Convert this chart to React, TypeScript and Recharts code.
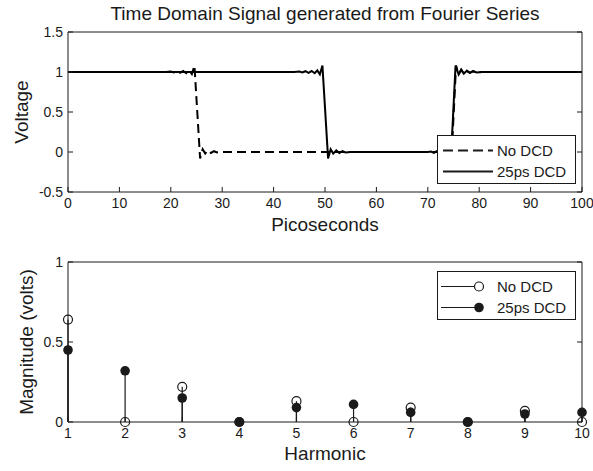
import {
  LineChart,
  Line,
  ScatterChart,
  Scatter,
  ErrorBar,
  XAxis,
  YAxis,
  Legend,
} from "recharts";

const INK = "#1a1a1a";
const FONT = '"Liberation Sans", Arial, Helvetica, sans-serif';

const TITLE = "Time Domain Signal generated from Fourier Series";
const SERIES = ["No DCD", "25ps DCD"];

// time domain, picoseconds vs volts (ripple hand-traced)
const NO_DCD_T = [
  0, 19, 20, 20.6, 21.2, 21.8, 22.4, 23, 23.6, 24.1, 24.6, 25.7, 26.2, 26.7, 27.2,
  27.8, 28.4, 29, 30, 72, 72.6, 73.2, 73.7, 74.2, 74.6, 75.5, 76, 76.5, 77, 77.6,
  78.2, 78.8, 79.5, 80.5, 100,
];
const NO_DCD_V = [
  1, 1, 1.005, 0.995, 1.01, 0.99, 1.012, 0.985, 1.02, 0.975, 1.08, -0.08, 0.035,
  -0.02, 0.02, -0.012, 0.01, -0.005, 0, 0, 0.005, -0.01, 0.015, -0.025, -0.08,
  1.08, 0.97, 1.03, 0.98, 1.015, 0.99, 1.01, 0.995, 1, 1,
];
const DCD_T = [
  0, 44, 45, 45.6, 46.2, 46.8, 47.4, 48, 48.5, 49, 49.5, 50.6, 51.1, 51.6, 52.2,
  52.8, 53.4, 54, 55, 70, 70.6, 71.2, 71.8, 72.4, 73, 73.6, 74.1, 74.5, 75.4, 76,
  76.5, 77, 77.6, 78.2, 78.8, 79.5, 80.5, 100,
];
const DCD_V = [
  1, 1, 1.005, 0.995, 1.01, 0.99, 1.012, 0.985, 1.02, 0.97, 1.08, -0.08, 0.035,
  -0.02, 0.02, -0.012, 0.01, -0.005, 0, 0, 0.005, -0.01, 0.012, -0.015, 0.02,
  -0.025, 0.03, -0.08, 1.08, 0.97, 1.03, 0.98, 1.015, 0.99, 1.01, 0.995, 1, 1,
];
const TIME_TICKS = [0, 10, 20, 30, 40, 50, 60, 70, 80, 90, 100];
const VOLT_TICKS = [-0.5, 0, 0.5, 1, 1.5];

// harmonic magnitudes
const HARMONICS = [1, 2, 3, 4, 5, 6, 7, 8, 9, 10];
const NO_DCD_MAG = [0.64, 0, 0.22, 0, 0.13, 0, 0.09, 0, 0.07, 0];
const DCD_MAG = [0.45, 0.32, 0.15, 0, 0.09, 0.11, 0.06, 0, 0.05, 0.06];
const MAG_TICKS = [0, 0.5, 1];

const noDcdLine = NO_DCD_T.map((t, i) => ({ t, v: NO_DCD_V[i] }));
const dcdLine = DCD_T.map((t, i) => ({ t, v: DCD_V[i] }));
const noDcdStems = HARMONICS.map((x, i) => ({ x, y: NO_DCD_MAG[i], stem: [NO_DCD_MAG[i], 0] }));
const dcdStems = HARMONICS.map((x, i) => ({ x, y: DCD_MAG[i], stem: [DCD_MAG[i], 0] }));

// ticks point inward, matlab style; labels drawn by hand
function BottomTick({ x, y, payload }: any) {
  return (
    <g>
      <line x1={x} x2={x} y1={y} y2={y - 5} stroke={INK} />
      <text x={x} y={y + 16} textAnchor="middle" fontSize={14} fill={INK} fontFamily={FONT}>
        {payload.value}
      </text>
    </g>
  );
}
function TopTick({ x, y }: any) {
  return <line x1={x} x2={x} y1={y} y2={y + 5} stroke={INK} />;
}
function LeftTick({ x, y, payload }: any) {
  return (
    <g>
      <line x1={x} x2={x + 5} y1={y} y2={y} stroke={INK} />
      <text x={x - 5} y={y + 5} textAnchor="end" fontSize={14} fill={INK} fontFamily={FONT}>
        {payload.value}
      </text>
    </g>
  );
}
function RightTick({ x, y }: any) {
  return <line x1={x} x2={x - 5} y1={y} y2={y} stroke={INK} />;
}

const OpenDot = (p: any) => (
  <circle cx={p.cx} cy={p.cy} r={4.5} fill="none" stroke={INK} strokeWidth={1.2} />
);
const FilledDot = (p: any) => <circle cx={p.cx} cy={p.cy} r={4.8} fill={INK} />;

function LegendBox({ kind }: { kind: "line" | "stem" }) {
  return (
    <div
      style={{
        boxSizing: "border-box",
        width: 139,
        height: 49,
        border: `1px solid ${INK}`,
        background: "#fff",
        paddingTop: 4,
        fontFamily: FONT,
        fontSize: 15,
        color: INK,
      }}
    >
      {SERIES.map((name, i) => (
        <div key={name} style={{ display: "flex", alignItems: "center", height: 21 }}>
          <svg width={58} height={21}>
            {kind === "line" ? (
              <line
                x1={5}
                x2={55}
                y1={10.5}
                y2={10.5}
                stroke={INK}
                strokeWidth={2}
                strokeDasharray={i === 0 ? "10 5" : undefined}
              />
            ) : (
              <>
                <line x1={3} x2={41} y1={10.5} y2={10.5} stroke={INK} />
                {i === 0 ? (
                  <circle cx={41} cy={10.5} r={4.5} fill="#fff" stroke={INK} strokeWidth={1.2} />
                ) : (
                  <circle cx={41} cy={10.5} r={4.8} fill={INK} />
                )}
              </>
            )}
          </svg>
          <span style={{ marginLeft: 1 }}>{name}</span>
        </div>
      ))}
    </div>
  );
}

const labelStyle = { fontSize: 19, fill: INK, fontFamily: FONT };

export default function App() {
  return (
    <div style={{ position: "absolute", left: 0, top: 0, width: 593, height: 471, background: "#fff" }}>
      <div style={{ position: "absolute", left: 0, top: 0 }}>
        <LineChart width={593} height={240} margin={{ top: 27, right: 6, bottom: 43, left: 63 }}>
          <XAxis
            dataKey="t"
            type="number"
            domain={[0, 100]}
            ticks={TIME_TICKS}
            interval={0}
            height={5}
            tickSize={0}
            tickMargin={0}
            tickLine={false}
            tick={<BottomTick />}
            axisLine={{ stroke: INK }}
            label={{ value: "Picoseconds", position: "bottom", offset: 21, ...labelStyle }}
          />
          <XAxis
            xAxisId="top"
            orientation="top"
            type="number"
            domain={[0, 100]}
            allowDataOverflow
            ticks={TIME_TICKS}
            interval={0}
            height={5}
            tickSize={0}
            tickMargin={0}
            tickLine={false}
            tick={<TopTick />}
            axisLine={{ stroke: INK }}
            label={{ value: TITLE, position: "top", offset: 7, ...labelStyle }}
          />
          <YAxis
            type="number"
            domain={[-0.5, 1.5]}
            ticks={VOLT_TICKS}
            interval={0}
            width={5}
            tickSize={0}
            tickMargin={0}
            tickLine={false}
            tick={<LeftTick />}
            axisLine={{ stroke: INK }}
            label={{
              value: "Voltage",
              angle: -90,
              position: "left",
              offset: 42,
              ...labelStyle,
              style: { textAnchor: "middle" },
            }}
          />
          <YAxis
            yAxisId="right"
            orientation="right"
            type="number"
            domain={[-0.5, 1.5]}
            allowDataOverflow
            ticks={VOLT_TICKS}
            interval={0}
            width={5}
            tickSize={0}
            tickMargin={0}
            tickLine={false}
            tick={<RightTick />}
            axisLine={{ stroke: INK }}
          />
          <Line
            data={noDcdLine}
            dataKey="v"
            name={SERIES[0]}
            type="linear"
            stroke="#000"
            strokeWidth={2}
            strokeDasharray="9 5"
            dot={false}
            isAnimationActive={false}
          />
          <Line
            data={dcdLine}
            dataKey="v"
            name={SERIES[1]}
            type="linear"
            stroke="#000"
            strokeWidth={2}
            dot={false}
            isAnimationActive={false}
          />
          <Legend
            layout="vertical"
            align="center"
            verticalAlign="middle"
            wrapperStyle={{ left: 437, top: 135, width: 139 }}
            content={() => <LegendBox kind="line" />}
          />
        </LineChart>
      </div>

      <div style={{ position: "absolute", left: 0, top: 240 }}>
        <ScatterChart width={593} height={231} margin={{ top: 17, right: 6, bottom: 44, left: 63 }}>
          <XAxis
            dataKey="x"
            type="number"
            domain={[1, 10]}
            ticks={HARMONICS}
            interval={0}
            height={5}
            tickSize={0}
            tickMargin={0}
            tickLine={false}
            tick={<BottomTick />}
            axisLine={{ stroke: INK }}
            label={{ value: "Harmonic", position: "bottom", offset: 20, ...labelStyle }}
          />
          <XAxis
            xAxisId="top"
            orientation="top"
            type="number"
            domain={[1, 10]}
            allowDataOverflow
            ticks={HARMONICS}
            interval={0}
            height={5}
            tickSize={0}
            tickMargin={0}
            tickLine={false}
            tick={<TopTick />}
            axisLine={{ stroke: INK }}
          />
          <YAxis
            dataKey="y"
            type="number"
            domain={[0, 1]}
            ticks={MAG_TICKS}
            interval={0}
            width={5}
            tickSize={0}
            tickMargin={0}
            tickLine={false}
            tick={<LeftTick />}
            axisLine={{ stroke: INK }}
            label={{
              value: "Magnitude (volts)",
              angle: -90,
              position: "left",
              offset: 37,
              ...labelStyle,
              style: { textAnchor: "middle" },
            }}
          />
          <YAxis
            yAxisId="right"
            orientation="right"
            type="number"
            domain={[0, 1]}
            allowDataOverflow
            ticks={MAG_TICKS}
            interval={0}
            width={5}
            tickSize={0}
            tickMargin={0}
            tickLine={false}
            tick={<RightTick />}
            axisLine={{ stroke: INK }}
          />
          <Scatter data={noDcdStems} name={SERIES[0]} shape={OpenDot} isAnimationActive={false}>
            <ErrorBar dataKey="stem" direction="y" width={0} stroke={INK} strokeWidth={1.2} />
          </Scatter>
          <Scatter data={dcdStems} name={SERIES[1]} shape={FilledDot} isAnimationActive={false}>
            <ErrorBar dataKey="stem" direction="y" width={0} stroke={INK} strokeWidth={1.2} />
          </Scatter>
          <Legend
            layout="vertical"
            align="center"
            verticalAlign="middle"
            wrapperStyle={{ left: 437, top: 31, width: 139 }}
            content={() => <LegendBox kind="stem" />}
          />
        </ScatterChart>
      </div>
    </div>
  );
}
